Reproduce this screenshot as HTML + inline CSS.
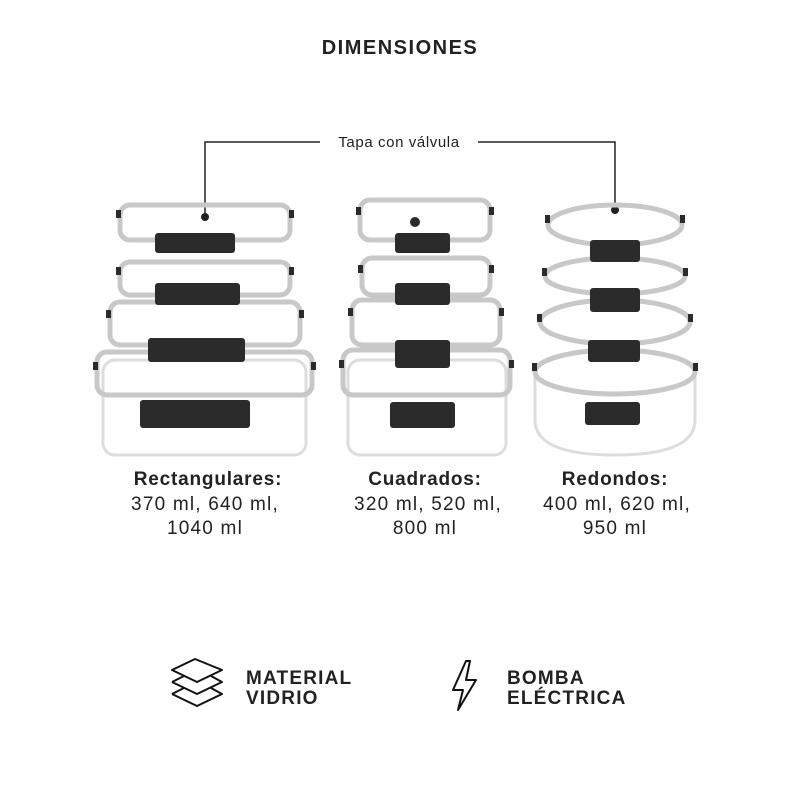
<!DOCTYPE html>
<html><head><meta charset="utf-8"><style>
html,body{margin:0;padding:0;background:#fff;}
svg{display:block}
text{font-family:"Liberation Sans",sans-serif;fill:#222}
</style></head><body>
<svg width="800" height="800" viewBox="0 0 800 800" xmlns="http://www.w3.org/2000/svg">
<rect width="800" height="800" fill="#fff"/>
<text x="400" y="54" text-anchor="middle" font-size="20" font-weight="bold" fill="#333" letter-spacing="1.5">DIMENSIONES</text>
<path d="M205,215 V142 H320 M478,142 H615 V208" fill="none" stroke="#222" stroke-width="1.5"/>
<circle cx="205" cy="217" r="4" fill="#222"/><circle cx="615" cy="210" r="4" fill="#222"/>
<text x="399" y="147" text-anchor="middle" font-size="15" letter-spacing="0.6">Tapa con válvula</text>

<g fill="none" stroke="#c8c8c8" stroke-width="5">
<rect x="103" y="360" width="203" height="95" rx="12" stroke="#ddd" stroke-width="3"/>
<rect x="97" y="352" width="215" height="43" rx="10"/>
<rect x="110" y="302" width="190" height="43" rx="10"/>
<rect x="120" y="262" width="170" height="33" rx="10"/>
<rect x="120" y="205" width="170" height="35" rx="10"/>
<rect x="348" y="360" width="158" height="95" rx="12" stroke="#ddd" stroke-width="3"/>
<rect x="343" y="350" width="167" height="45" rx="10"/>
<rect x="352" y="300" width="148" height="45" rx="10"/>
<rect x="362" y="258" width="128" height="37" rx="10"/>
<rect x="360" y="200" width="130" height="40" rx="10"/>
<path d="M535,375 V420 Q535,455 615,455 Q695,455 695,420 V375" stroke="#ddd" stroke-width="3"/>
<ellipse cx="615" cy="372" rx="80" ry="22"/>
<ellipse cx="615" cy="322" rx="75" ry="22"/>
<ellipse cx="615" cy="276" rx="70" ry="18"/>
<ellipse cx="615" cy="225" rx="67" ry="20"/>
</g>
<g fill="#2b2b2b">
<rect x="155" y="233" width="80" height="20" rx="3"/>
<rect x="155" y="283" width="85" height="22" rx="3"/>
<rect x="148" y="338" width="97" height="24" rx="3"/>
<rect x="140" y="400" width="110" height="28" rx="3"/>
<rect x="395" y="233" width="55" height="20" rx="3"/>
<rect x="395" y="283" width="55" height="22" rx="3"/>
<rect x="395" y="340" width="55" height="28" rx="3"/>
<rect x="390" y="402" width="65" height="26" rx="3"/>
<rect x="590" y="240" width="50" height="22" rx="3"/>
<rect x="590" y="288" width="50" height="24" rx="3"/>
<rect x="588" y="340" width="52" height="22" rx="3"/>
<rect x="585" y="402" width="55" height="23" rx="3"/>
<circle cx="415" cy="222" r="5"/>
<!-- side clips -->
<rect x="116" y="210" width="5" height="8"/><rect x="289" y="210" width="5" height="8"/>
<rect x="116" y="267" width="5" height="8"/><rect x="289" y="267" width="5" height="8"/>
<rect x="106" y="310" width="5" height="8"/><rect x="299" y="310" width="5" height="8"/>
<rect x="93" y="362" width="5" height="8"/><rect x="311" y="362" width="5" height="8"/>
<rect x="356" y="207" width="5" height="8"/><rect x="489" y="207" width="5" height="8"/>
<rect x="358" y="265" width="5" height="8"/><rect x="489" y="265" width="5" height="8"/>
<rect x="348" y="308" width="5" height="8"/><rect x="499" y="308" width="5" height="8"/>
<rect x="339" y="360" width="5" height="8"/><rect x="509" y="360" width="5" height="8"/>
<rect x="545" y="215" width="5" height="8"/><rect x="680" y="215" width="5" height="8"/>
<rect x="542" y="268" width="5" height="8"/><rect x="683" y="268" width="5" height="8"/>
<rect x="537" y="314" width="5" height="8"/><rect x="688" y="314" width="5" height="8"/>
<rect x="532" y="363" width="5" height="8"/><rect x="693" y="363" width="5" height="8"/>
</g>

<g text-anchor="middle" font-size="19">
<text x="208" y="485" font-weight="bold" letter-spacing="0.8">Rectangulares:</text>
<text x="205" y="510" letter-spacing="1.2">370 ml, 640 ml,</text>
<text x="205" y="534" letter-spacing="1.2">1040 ml</text>
<text x="425" y="485" font-weight="bold" letter-spacing="0.8">Cuadrados:</text>
<text x="428" y="510" letter-spacing="1.2">320 ml, 520 ml,</text>
<text x="425" y="534" letter-spacing="1.2">800 ml</text>
<text x="615" y="485" font-weight="bold" letter-spacing="0.8">Redondos:</text>
<text x="617" y="510" letter-spacing="1.2">400 ml, 620 ml,</text>
<text x="615" y="534" letter-spacing="1.2">950 ml</text>
</g>

<g fill="none" stroke="#111" stroke-width="2" stroke-linejoin="round">
<path d="M172,670 L195,659 L222,670 L197,682 Z"/>
<path d="M172,682 L184,676 M211,676 L222,682 L197,694 L172,682"/>
<path d="M172,694 L184,688 M211,688 L222,694 L197,706 L172,694"/>
<path d="M466,661 L453,690 L463,690 L458,710 L476,680 L466,680 L470,661 Z"/>
</g>
<g font-size="19" font-weight="bold" fill="#111" letter-spacing="1.2">
<text x="246" y="684">MATERIAL</text>
<text x="246" y="704">VIDRIO</text>
<text x="507" y="684">BOMBA</text>
<text x="507" y="704">ELÉCTRICA</text>
</g>
</svg>
</body></html>
